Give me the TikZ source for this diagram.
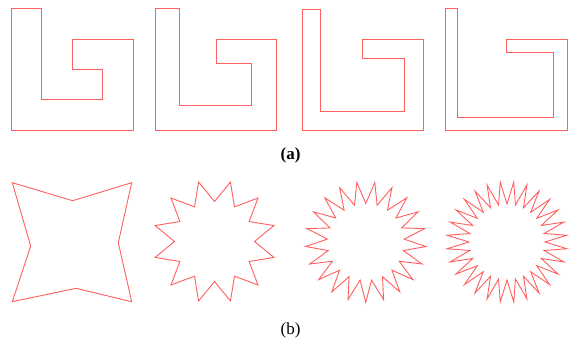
\documentclass[tikz,border=0pt]{standalone}
\usepackage{fontspec}
\setmainfont{Liberation Serif}

\definecolor{shapered}{RGB}{255,95,95}
\tikzset{
  outline/.style={draw=shapered, line width=0.9pt, line join=miter},
  caption/.style={font=\fontsize{17}{20}\selectfont}
}
% star: centre x, centre y, number of points, outer and inner radius
\newcommand{\spikystar}[5]{%
  \pgfmathtruncatemacro{\lastk}{2*#3-1}
  \draw[outline] ({#1},{#2-#5})
    \foreach \k [evaluate=\k as \a using {90+\k*180/#3},
                 evaluate=\k as \r using {#5+(#4-#5)*mod(\k,2)}] in {1,...,\lastk}
    { -- ({#1+\r*cos(\a)},{#2-\r*sin(\a)}) } -- cycle;
}

\begin{document}
\begin{tikzpicture}[x=1pt, y=-1pt]
  \useasboundingbox (0,0) rectangle (569,343);

  % (a) hooks
  \draw[outline] (11.7,8.3) -- (41.7,8.3) -- (41.7,99.3) -- (102.7,99.3) -- (102.7,69.3)
    -- (72.3,69.3) -- (72.3,39) -- (133.3,39) -- (133.3,130) -- (11.7,130) -- cycle;
  \draw[outline] (155,8.7) -- (179.7,8.7) -- (179.7,105.7) -- (251.7,105.7) -- (251.7,63.3)
    -- (216,63.3) -- (216,39.3) -- (276.7,39.3) -- (276.7,130) -- (155,130) -- cycle;
  \draw[outline] (302,9.3) -- (320.7,9.3) -- (320.7,111) -- (404.3,111) -- (404.3,58)
    -- (362.7,58) -- (362.7,39.7) -- (423.3,39.7) -- (423.3,130) -- (302,130) -- cycle;
  \draw[outline] (445,8.7) -- (457.7,8.7) -- (457.7,117.7) -- (553.7,117.7) -- (553.7,52.3)
    -- (506,52.3) -- (506,39.7) -- (567.3,39.7) -- (567.3,130) -- (445,130) -- cycle;

  \node[caption, font=\fontsize{17}{20}\selectfont\bfseries] (capa) at (290.5,155.5) {(a)};

  % (b) stars
  \draw[outline] (12.3,182.7) -- (72.7,200.7) -- (131.7,182.7) -- (118.3,242.7)
    -- (131.7,301.7) -- (76,288.3) -- (12.3,301.7) -- (30.7,246) -- cycle;
  \spikystar{214.5}{241.5}{12}{61.5}{40}
  \spikystar{365.8}{242}{21}{60.3}{38.5}
  \spikystar{507}{242}{28}{60.3}{38}

  \node[caption] (capb) at (290.5,330.5) {(b)};
\end{tikzpicture}
\end{document}
